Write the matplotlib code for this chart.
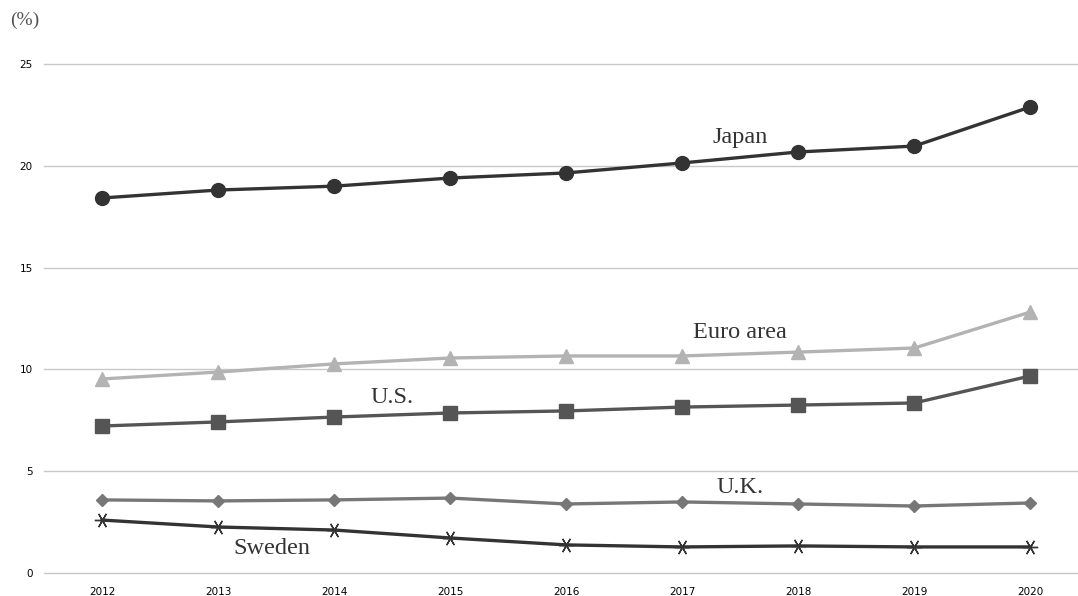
import matplotlib
matplotlib.use("Agg")
import matplotlib.pyplot as plt

years = [2012, 2013, 2014, 2015, 2016, 2017, 2018, 2019, 2020]
japan = [18.42, 18.81, 19.0, 19.4, 19.65, 20.14, 20.68, 20.97, 22.89]
euro_area = [9.53, 9.87, 10.27, 10.56, 10.66, 10.66, 10.85, 11.05, 12.82]
us = [7.22, 7.42, 7.66, 7.86, 7.96, 8.15, 8.25, 8.35, 9.68]
uk = [3.59, 3.54, 3.59, 3.68, 3.39, 3.49, 3.39, 3.29, 3.44]
sweden = [2.60, 2.26, 2.11, 1.72, 1.38, 1.28, 1.33, 1.28, 1.28]
y_ticks = [0, 5, 10, 15, 20, 25]

fig = plt.figure(figsize=(10.78, 5.96), dpi=100)
ax = fig.add_axes([0.0408, 0.0386, 0.9592, 0.854])

ax.plot(years, japan, color="#333333", lw=2.4, marker="o", ms=10, zorder=5)
ax.plot(years, euro_area, color="#b3b3b3", lw=2.4, marker="^", ms=10, zorder=4)
ax.plot(years, us, color="#555555", lw=2.4, marker="s", ms=9.5, zorder=4)
ax.plot(years, uk, color="#777777", lw=2.4, marker="D", ms=6.5, zorder=4)
ax.plot(years, sweden, color="#333333", lw=2.4, marker=(6, 2, 90), ms=11,
        mew=1.0, zorder=4)

ax.set_xlim(2011.5, 2020.41)
ax.set_ylim(0, 25)
ax.set_xticks(years)
ax.set_yticks(y_ticks)
ax.tick_params(length=0, labelsize=7.5, colors="#000000")
ax.tick_params(axis="x", pad=10)
ax.tick_params(axis="y", pad=8)
ax.grid(axis="y", color="#c8c8c8", lw=1)
for gl in ax.get_ygridlines():
    gl.set_clip_on(False)
ax.set_axisbelow(True)
for s in ax.spines.values():
    s.set_visible(False)

serif = "Liberation Serif"
lab = dict(fontsize=17.5, family=serif, color="#333333", ha="center", va="center")
ax.text(2017.5, 21.37, "Japan", **lab)
ax.text(2017.5, 11.79, "Euro area", **lab)
ax.text(2014.5, 8.6, "U.S.", **lab)
ax.text(2017.5, 4.22, "U.K.", **lab)
ax.text(2013.46, 1.18, "Sweden", **lab)

fig.text(0.0093, 0.966, "(%)", fontsize=14, family=serif, color="#555555",
         ha="left", va="center")

fig.savefig("out.png", dpi=100)
